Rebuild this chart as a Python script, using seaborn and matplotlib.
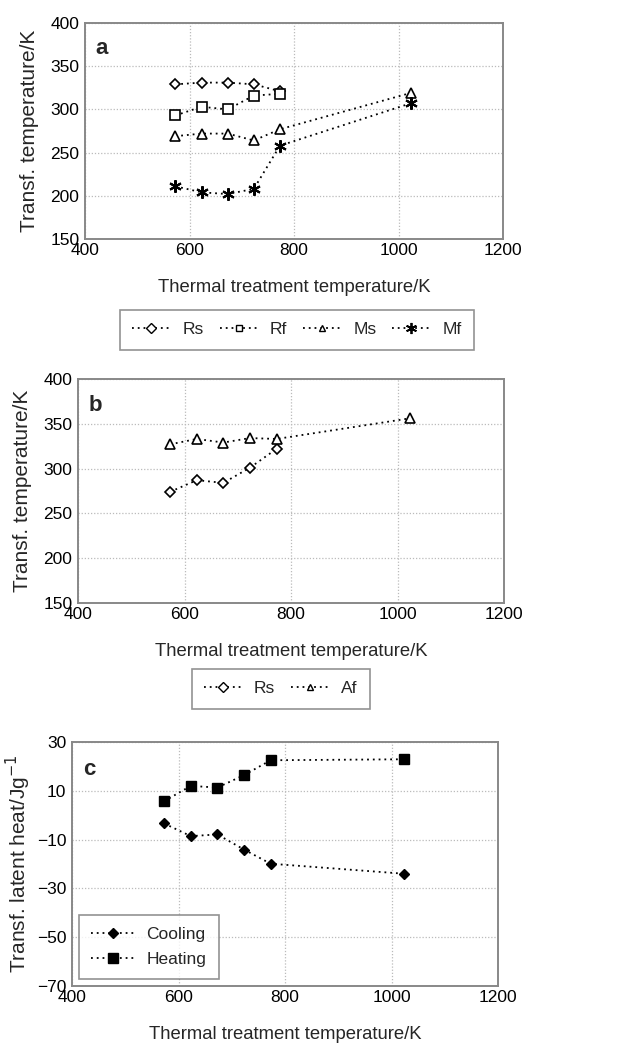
import matplotlib
matplotlib.use("Agg")
import matplotlib.pyplot as plt
import seaborn as sns
import pandas as pd
from matplotlib.lines import Line2D

sns.set_theme(style="white")
plt.rcParams['font.family'] = ['Liberation Sans', 'DejaVu Sans']

# ---- data ----
x_a = [573, 623, 673, 723, 773]
x_a6 = [573, 623, 673, 723, 773, 1023]
rs_a = [329, 331, 331, 329, 321]
rf_a = [293, 303, 300, 316, 318]
ms_a = [269, 272, 272, 264, 277, 319]
mf_a = [211, 204, 202, 208, 258, 307]

x_b5 = [573, 623, 673, 723, 773]
x_b6 = [573, 623, 673, 723, 773, 1023]
rs_b = [274, 287, 284, 301, 322]
af_b = [327, 333, 329, 334, 333, 356]

x_c = [573, 623, 673, 723, 773, 1023]
cooling = [-3.4, -8.6, -7.9, -14.1, -19.9, -24.0]
heating = [5.7, 12.0, 11.3, 16.4, 22.5, 22.9]

x_ticks = [400, 600, 800, 1000, 1200]
xlabel = "Thermal treatment temperature/K"

fig = plt.figure(figsize=(6.25, 10.45), dpi=100)
ax_a = fig.add_axes([0.136, 0.7713, 0.669, 0.2067])
ax_b = fig.add_axes([0.1248, 0.4230, 0.6816, 0.2144])
ax_c = fig.add_axes([0.1152, 0.0565, 0.6816, 0.2335])

lw = 1.3
common = dict(color="black", linestyle=(0, (1, 2.2)), linewidth=lw)

def draw(ax, x, y, marker, ms, filled=False, mew=1.0):
    df = pd.DataFrame({"x": x, "y": y})
    sns.lineplot(data=df, x="x", y="y", ax=ax, marker=marker, markersize=ms,
                 markerfacecolor=("black" if filled else "white"),
                 markeredgecolor="black", markeredgewidth=mew, **common)

asterisk = (6, 2, 0)

draw(ax_a, x_a, rs_a, "D", 5.5, mew=1.2)
draw(ax_a, x_a, rf_a, "s", 6.5, mew=1.2)
draw(ax_a, x_a6, ms_a, "^", 6.5, mew=1.2)
draw(ax_a, x_a6, mf_a, asterisk, 9, mew=1.5)

draw(ax_b, x_b5, rs_b, "D", 5.5, mew=1.2)
draw(ax_b, x_b6, af_b, "^", 6.5, mew=1.2)

draw(ax_c, x_c, cooling, "D", 5.5, filled=True)
draw(ax_c, x_c, heating, "s", 7.5, filled=True)

def style(ax, ylim, yticks, ylabel, letter, ypad):
    ax.set_xlim(400, 1200)
    ax.set_ylim(*ylim)
    ax.set_xticks(x_ticks)
    ax.set_yticks(yticks)
    ax.set_yticklabels([str(v).replace("-", "\u2212") for v in yticks])
    ax.grid(True, color="#bbbbbb", linestyle=(0, (1, 1.5)), linewidth=0.9)
    for s in ax.spines.values():
        s.set_color("#888888")
        s.set_linewidth(1.4)
    ax.tick_params(axis="x", labelsize=12.5, length=0, pad=3, colors="black")
    ax.tick_params(axis="y", labelsize=12.5, length=0, pad=4, colors="black")
    ax.set_xlabel(xlabel, fontsize=13.3, labelpad=15)
    ax.set_ylabel(ylabel, fontsize=15, labelpad=ypad)
    ax.text(0.025, 0.93, letter, transform=ax.transAxes, fontsize=16,
            fontweight="bold", va="top", ha="left")

style(ax_a, (150, 400), [150, 200, 250, 300, 350, 400], "Transf. temperature/K", "a", 8)
style(ax_b, (150, 400), [150, 200, 250, 300, 350, 400], "Transf. temperature/K", "b", 8)
style(ax_c, (-70, 30), [-70, -50, -30, -10, 10, 30], "Transf. latent heat/Jg$^{-1}$", "c", 3)

def handle(marker, ms, filled=False, mew=1.0):
    return Line2D([], [], marker=marker, markersize=ms,
                  markerfacecolor=("black" if filled else "white"),
                  markeredgecolor="black", markeredgewidth=mew, **common)

leg_kw = dict(frameon=True, fancybox=False, edgecolor="#777777", fontsize=12.5,
              handlelength=2.2, handletextpad=0.7, borderpad=0.7, borderaxespad=0)

la = ax_a.legend([handle("D", 5), handle("s", 5), handle("^", 5), handle(asterisk, 8, mew=1.3)],
                 ["Rs", "Rf", "Ms", "Mf"], ncol=4, loc="upper center",
                 bbox_to_anchor=(0.507, -0.329), columnspacing=0.9, **leg_kw)
la.get_frame().set_linewidth(1.2)

lb = ax_b.legend([handle("D", 5), handle("^", 5)], ["Rs", "Af"], ncol=2,
                 loc="upper center", bbox_to_anchor=(0.476, -0.295), columnspacing=0.9, **leg_kw)
lb.get_frame().set_linewidth(1.2)

lc = ax_c.legend([handle("D", 5.5, filled=True), handle("s", 7.5, filled=True)],
                 ["Cooling", "Heating"], loc="lower left", labelspacing=0.55,
                 handlelength=2.5, bbox_to_anchor=(0.016, 0.029),
                 **{k: v for k, v in leg_kw.items() if k != "handlelength"})
lc.get_frame().set_linewidth(1.2)

fig.savefig("out.png", dpi=100)
